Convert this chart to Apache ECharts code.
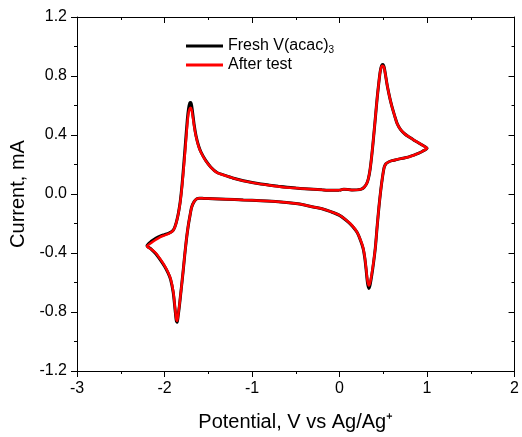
<!DOCTYPE html>
<html>
<head>
<meta charset="utf-8">
<script src="https://cdn.jsdelivr.net/npm/echarts@6/dist/echarts.min.js"></script>
<style>
html,body{margin:0;padding:0;background:#fff;}
#chart{width:522px;height:437px;}
</style>
</head>
<body>
<div id="chart"></div>
<script>
// Potential (V vs Ag/Ag+) along the cyclic scan: 0 -> 1.0 -> -2.2 -> 0
const potential = [
  0.0,0.05,0.1,0.15,0.2,0.25,0.28,0.31,0.33,0.35,0.37,0.39,0.41,0.43,0.45,0.465,0.48,0.495,0.51,0.53,0.55,0.575,0.6,0.63,0.66,0.7,0.75,0.8,0.85,0.9,0.95,1.0,
  0.95,0.9,0.85,0.8,0.75,0.7,0.65,0.6,0.56,0.53,0.51,0.49,0.47,0.45,0.43,0.41,0.39,0.37,0.35,0.335,0.32,0.305,0.29,0.27,0.24,0.2,0.15,0.1,0.0,-0.1,-0.2,-0.3,-0.4,-0.5,-0.7,-0.9,-1.1,-1.3,-1.45,-1.55,-1.6,-1.63,-1.66,-1.69,-1.71,-1.73,-1.75,-1.77,-1.79,-1.81,-1.83,-1.845,-1.855,-1.865,-1.88,-1.9,-1.93,-1.96,-2.0,-2.05,-2.1,-2.15,-2.2,
  -2.15,-2.1,-2.05,-2.0,-1.95,-1.92,-1.9,-1.88,-1.86,-1.84,-1.82,-1.8,-1.78,-1.76,-1.74,-1.725,-1.71,-1.7,-1.69,-1.675,-1.66,-1.64,-1.61,-1.58,-1.53,-1.47,-1.4,-1.3,-1.2,-1.1,-1.0,-0.9,-0.8,-0.7,-0.6,-0.5,-0.4,-0.3,-0.2,-0.1,-0.05,0.0
];
// Current (mA), fresh V(acac)3
const currentFresh = [
  0.025,0.032,0.03,0.027,0.028,0.033,0.045,0.07,0.105,0.17,0.27,0.39,0.52,0.65,0.76,0.83,0.87,0.878,0.86,0.79,0.72,0.65,0.59,0.53,0.475,0.435,0.405,0.385,0.365,0.348,0.33,0.31,
  0.29,0.275,0.263,0.253,0.246,0.24,0.233,0.226,0.217,0.205,0.18,0.11,0.02,-0.09,-0.22,-0.36,-0.46,-0.545,-0.615,-0.64,-0.605,-0.52,-0.44,-0.37,-0.315,-0.26,-0.22,-0.19,-0.145,-0.12,-0.1,-0.088,-0.075,-0.065,-0.052,-0.045,-0.04,-0.035,-0.032,-0.03,-0.028,-0.032,-0.05,-0.09,-0.15,-0.22,-0.31,-0.42,-0.54,-0.65,-0.76,-0.83,-0.87,-0.86,-0.78,-0.67,-0.58,-0.535,-0.49,-0.445,-0.405,-0.375,-0.35,
  -0.32,-0.3,-0.285,-0.275,-0.265,-0.256,-0.245,-0.22,-0.18,-0.125,-0.05,0.06,0.2,0.35,0.5,0.58,0.618,0.62,0.6,0.535,0.465,0.395,0.325,0.28,0.228,0.182,0.146,0.125,0.105,0.09,0.078,0.068,0.06,0.052,0.045,0.04,0.036,0.032,0.028,0.025,0.026,0.025
];
// Current (mA), after test
const currentAfter = [
  0.025,0.032,0.03,0.027,0.028,0.033,0.045,0.07,0.105,0.17,0.27,0.39,0.52,0.65,0.76,0.83,0.865,0.87,0.855,0.79,0.72,0.65,0.59,0.53,0.475,0.435,0.405,0.385,0.365,0.348,0.33,0.31,
  0.29,0.275,0.263,0.253,0.246,0.24,0.233,0.226,0.217,0.205,0.18,0.11,0.02,-0.09,-0.22,-0.36,-0.455,-0.535,-0.6,-0.62,-0.59,-0.51,-0.435,-0.365,-0.312,-0.258,-0.218,-0.188,-0.144,-0.12,-0.1,-0.088,-0.075,-0.065,-0.052,-0.045,-0.04,-0.035,-0.032,-0.03,-0.028,-0.032,-0.05,-0.09,-0.15,-0.22,-0.31,-0.42,-0.54,-0.65,-0.755,-0.825,-0.86,-0.85,-0.77,-0.66,-0.575,-0.53,-0.485,-0.44,-0.4,-0.375,-0.355,
  -0.33,-0.31,-0.292,-0.28,-0.268,-0.258,-0.247,-0.222,-0.182,-0.128,-0.055,0.05,0.18,0.32,0.47,0.55,0.58,0.585,0.57,0.515,0.455,0.39,0.322,0.278,0.226,0.181,0.145,0.124,0.104,0.089,0.077,0.067,0.059,0.051,0.044,0.04,0.036,0.032,0.028,0.025,0.026,0.025
];
const seriesNames = ['Fresh V(acac)3', 'After test'];
const seriesColors = ['#000000', '#ff0000'];
const xTicks = { min: -3, max: 2, interval: 1 };
const yTicks = { min: -1.2, max: 1.2, interval: 0.4 };

const font = '"Liberation Sans", Arial, sans-serif';
const chart = echarts.init(document.getElementById('chart'), null, { renderer: 'canvas' });

function pairs(xs, ys) { return xs.map((x, i) => [x, ys[i]]); }

const baseAxisLine = { show: true, onZero: false, lineStyle: { color: '#000', width: 1 } };

chart.setOption({
  animation: false,
  backgroundColor: '#fff',
  grid: { left: 77, right: 3, top: 17, bottom: 63, containLabel: false },
  legend: {
    orient: 'vertical',
    left: 181,
    top: 33,
    itemWidth: 37,
    itemHeight: 3,
    itemGap: 2,
    icon: 'rect',
    data: seriesNames,
    textStyle: {
      fontFamily: font, fontSize: 16, color: '#000',
      rich: {
        n: { fontFamily: font, fontSize: 16, color: '#000' },
        sub: { fontFamily: font, fontSize: 10, color: '#000', verticalAlign: 'bottom', padding: [8, 0, 0, 0] }
      }
    },
    formatter: function (name) {
      if (name === 'Fresh V(acac)3') return '{n|Fresh V(acac)}{sub|3}';
      return '{n|' + name + '}';
    }
  },
  xAxis: [
    {
      type: 'value', position: 'bottom', min: xTicks.min, max: xTicks.max, interval: xTicks.interval,
      name: 'Potential, V vs Ag/Ag⁺', nameLocation: 'middle', nameGap: 41,
      nameTextStyle: { fontFamily: font, fontSize: 20, color: '#000' },
      axisLine: baseAxisLine,
      axisTick: { show: true, inside: false, length: 6, lineStyle: { color: '#000' } },
      minorTick: { show: true, splitNumber: 2, length: 3, lineStyle: { color: '#000' } },
      axisLabel: { fontFamily: font, fontSize: 16, color: '#000', margin: 10 },
      splitLine: { show: false }
    },
    {
      type: 'value', position: 'top', min: xTicks.min, max: xTicks.max, interval: xTicks.interval,
      axisLine: baseAxisLine,
      axisTick: { show: true, inside: true, length: 6, lineStyle: { color: '#000' } },
      minorTick: { show: true, splitNumber: 2, length: 3, lineStyle: { color: '#000' } },
      axisLabel: { show: false },
      splitLine: { show: false }
    }
  ],
  yAxis: [
    {
      type: 'value', position: 'left', min: yTicks.min, max: yTicks.max, interval: yTicks.interval,
      name: 'Current, mA', nameLocation: 'middle', nameGap: 47,
      nameTextStyle: { fontFamily: font, fontSize: 20, color: '#000' },
      axisLine: baseAxisLine,
      axisTick: { show: true, inside: false, length: 6, lineStyle: { color: '#000' } },
      minorTick: { show: true, splitNumber: 2, length: 3, lineStyle: { color: '#000' } },
      axisLabel: { fontFamily: font, fontSize: 16, color: '#000', margin: 10,
        formatter: function (v) { return v.toFixed(1); } },
      splitLine: { show: false }
    },
    {
      type: 'value', position: 'right', min: yTicks.min, max: yTicks.max, interval: yTicks.interval,
      axisLine: baseAxisLine,
      axisTick: { show: true, inside: true, length: 6, lineStyle: { color: '#000' } },
      minorTick: { show: true, splitNumber: 2, length: 3, lineStyle: { color: '#000' } },
      axisLabel: { show: false },
      splitLine: { show: false }
    }
  ],
  series: [
    {
      name: seriesNames[0], type: 'line', xAxisIndex: 0, yAxisIndex: 0,
      data: pairs(potential, currentFresh), showSymbol: false, symbol: 'none',
      smooth: 0.25, color: seriesColors[0],
      lineStyle: { color: seriesColors[0], width: 3 }, z: 2
    },
    {
      name: seriesNames[1], type: 'line', xAxisIndex: 0, yAxisIndex: 0,
      data: pairs(potential, currentAfter), showSymbol: false, symbol: 'none',
      smooth: 0.25, color: seriesColors[1],
      lineStyle: { color: seriesColors[1], width: 2.5 }, z: 3
    }
  ]
});
</script>
</body>
</html>
